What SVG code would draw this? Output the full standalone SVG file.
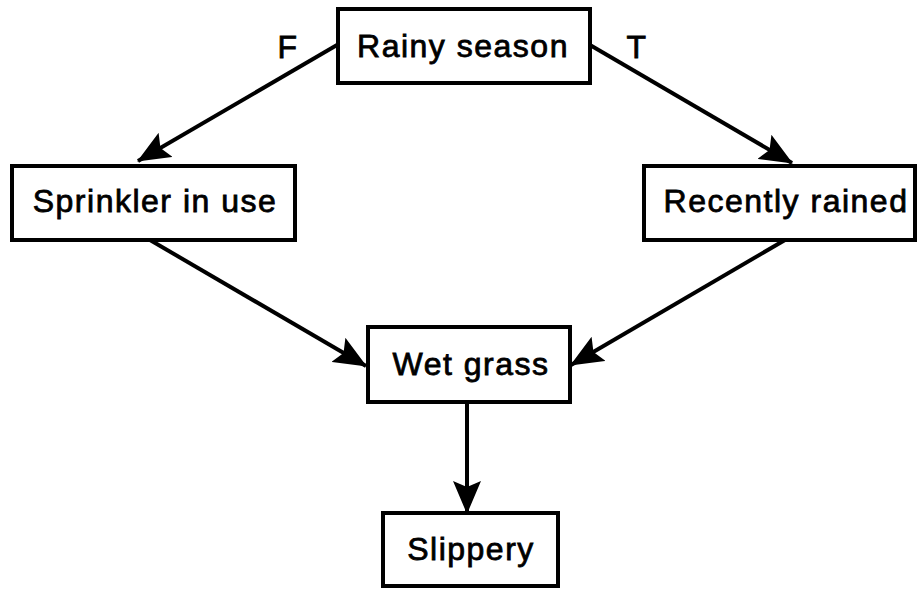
<svg xmlns="http://www.w3.org/2000/svg" width="919" height="590" viewBox="0 0 919 590">
<style>
.box{fill:#fff;stroke:#000;stroke-width:4}
.lbl{font-family:"Liberation Sans",Arial,sans-serif;font-size:32px;letter-spacing:1.5px;fill:#000;stroke:#000;stroke-width:0.8px;text-anchor:middle}
.edge{stroke:#000;stroke-width:4;fill:none;marker-end:url(#ah)}
</style>
<defs>
<marker id="ah" markerUnits="userSpaceOnUse" markerWidth="33" markerHeight="28" refX="32" refY="14" orient="auto" viewBox="0 0 33 28">
<path d="M0,0 L33,14 L0,28 L6,14 Z" fill="#000"/>
</marker>
</defs>
<rect width="919" height="590" fill="#fff"/>
<g id="connectors">
<line class="edge" x1="337" y1="45" x2="138" y2="161"/>
<line class="edge" x1="590" y1="45" x2="792" y2="163"/>
<line class="edge" x1="150" y1="240" x2="366" y2="366"/>
<line class="edge" x1="785" y1="240" x2="571" y2="365"/>
<line class="edge" x1="467" y1="402" x2="467" y2="513"/>
<text class="lbl" x="288" y="58">F</text>
<text class="lbl" x="637" y="58">T</text>
</g>
<g id="rainy"><rect class="box" x="338" y="9" width="252" height="74"/><text class="lbl" x="463" y="57">Rainy season</text></g>
<g id="sprinkler"><rect class="box" x="12" y="166" width="283" height="74"/><text class="lbl" x="155" y="212">Sprinkler in use</text></g>
<g id="rained"><rect class="box" x="644" y="166" width="271" height="74"/><text class="lbl" x="786" y="212">Recently rained</text></g>
<g id="wet"><rect class="box" x="368" y="327" width="202" height="75"/><text class="lbl" x="471" y="375">Wet grass</text></g>
<g id="slippery"><rect class="box" x="383" y="513" width="175" height="73"/><text class="lbl" x="471" y="560">Slippery</text></g>
</svg>
